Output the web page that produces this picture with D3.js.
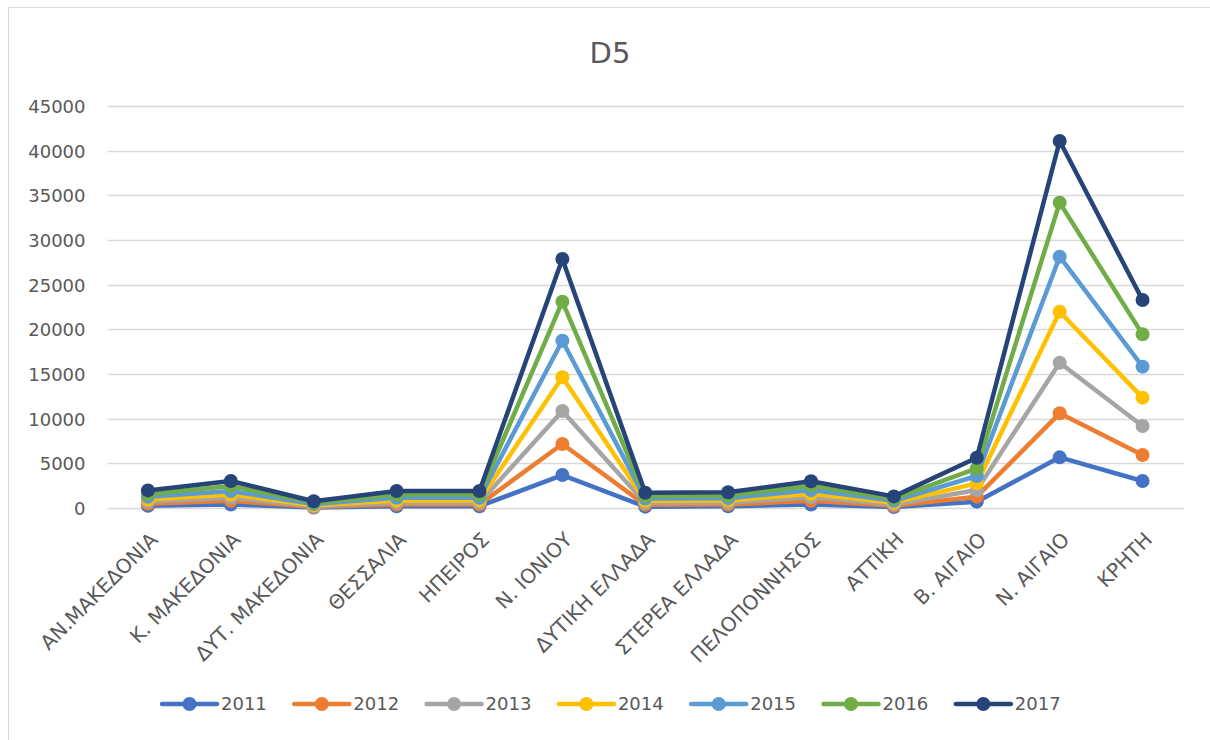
<!DOCTYPE html>
<html>
<head>
<meta charset="utf-8">
<script src="https://cdn.jsdelivr.net/npm/d3@7"></script>
<style>
  body { margin: 0; background: #fff; }
  text { font-family: "DejaVu Sans", "Noto Sans", sans-serif; fill: #595959; }
</style>
</head>
<body>
<script>
// chart data
var regions = ["ΑΝ.ΜΑΚΕΔΟΝΙΑ", "Κ. ΜΑΚΕΔΟΝΙΑ", "ΔΥΤ. ΜΑΚΕΔΟΝΙΑ", "ΘΕΣΣΑΛΙΑ", "ΗΠΕΙΡΟΣ",
               "Ν. ΙΟΝΙΟΥ", "ΔΥΤΙΚΗ ΕΛΛΑΔΑ", "ΣΤΕΡΕΑ ΕΛΛΑΔΑ", "ΠΕΛΟΠΟΝΝΗΣΟΣ", "ΑΤΤΙΚΗ",
               "Β. ΑΙΓΑΙΟ", "Ν. ΑΙΓΑΙΟ", "ΚΡΗΤΗ"];
var years = ["2011", "2012", "2013", "2014", "2015", "2016", "2017"];
var v2011 = [250, 400, 50, 200, 200, 3690, 150, 200, 400, 100, 710, 5670, 3020];
var v2012 = [480, 800, 100, 400, 400, 7160, 350, 400, 800, 250, 1270, 10600, 5930];
var v2013 = [700, 1150, 200, 600, 600, 10860, 550, 600, 1200, 400, 2010, 16260, 9180];
var v2014 = [950, 1500, 300, 850, 850, 14630, 800, 850, 1600, 600, 2760, 21970, 12350];
var v2015 = [1250, 1900, 450, 1150, 1150, 18730, 1050, 1100, 2000, 800, 3580, 28130, 15820];
var v2016 = [1550, 2450, 600, 1500, 1500, 23100, 1350, 1400, 2500, 1050, 4440, 34180, 19440];
var v2017 = [1970, 3020, 750, 1900, 1900, 27870, 1700, 1770, 3000, 1300, 5630, 41080, 23280];
var yTicks = [0, 5000, 10000, 15000, 20000, 25000, 30000, 35000, 40000, 45000];

var seriesValues = [v2011, v2012, v2013, v2014, v2015, v2016, v2017];
var colors = ["#4472C4", "#ED7D31", "#A5A5A5", "#FFC000", "#5B9BD5", "#70AD47", "#264478"];

var width = 1210, height = 740;
var plot = {left: 106.5, right: 1184, top: 106, bottom: 508};

var svg = d3.select("body").append("svg")
    .attr("width", width)
    .attr("height", height);

// chart border (left + top visible)
svg.append("path")
    .attr("d", "M8.5,740 V7.5 H1210")
    .attr("fill", "none")
    .attr("stroke", "#d9d9d9")
    .attr("stroke-width", 1);

var x = d3.scaleBand()
    .domain(regions)
    .range([plot.left, plot.right])
    .padding(0);
var y = d3.scaleLinear()
    .domain([0, 45000])
    .range([plot.bottom, plot.top]);

// gridlines
svg.append("g").selectAll("line")
    .data(yTicks)
  .enter().append("line")
    .attr("x1", plot.left + 1)
    .attr("x2", plot.right)
    .attr("y1", function(d) { return Math.round(y(d)) + 0.5; })
    .attr("y2", function(d) { return Math.round(y(d)) + 0.5; })
    .attr("stroke", "#d9d9d9")
    .attr("stroke-width", 1.3);

// y axis labels
var yAxis = svg.append("g")
    .attr("transform", "translate(" + (plot.left - 21) + ",0)")
    .call(d3.axisLeft(y).tickValues(yTicks).tickSize(0).tickPadding(0).tickFormat(d3.format("d")));
yAxis.select(".domain").remove();
yAxis.selectAll("text")
    .style("font-size", "18px")
    .attr("fill", "#595959")
    .attr("dy", "0.36em");

// x axis labels
var xAxis = svg.append("g")
    .attr("transform", "translate(0," + plot.bottom + ")")
    .call(d3.axisBottom(x).tickSize(0));
xAxis.select(".domain").remove();
xAxis.selectAll(".tick text")
    .style("font-size", "20px")
    .attr("fill", "#595959")
    .style("text-anchor", "end")
    .attr("x", 0)
    .attr("y", 0)
    .attr("dy", "0.35em")
    .attr("transform", "translate(6,28) rotate(-45)");

// lines and markers
var line = d3.line()
    .x(function(d, i) { return x(regions[i]) + x.bandwidth() / 2; })
    .y(function(d) { return y(d); });

seriesValues.forEach(function(vals, k) {
  var g = svg.append("g");
  g.append("path")
      .datum(vals)
      .attr("d", line)
      .attr("fill", "none")
      .attr("stroke", colors[k])
      .attr("stroke-width", 4.5)
      .attr("stroke-linejoin", "round")
      .attr("stroke-linecap", "round");
  g.selectAll("circle")
      .data(vals)
    .enter().append("circle")
      .attr("cx", function(d, i) { return x(regions[i]) + x.bandwidth() / 2; })
      .attr("cy", function(d) { return y(d); })
      .attr("r", 7)
      .attr("fill", colors[k]);
});

// title
svg.append("text")
    .attr("x", 610)
    .attr("y", 63)
    .attr("text-anchor", "middle")
    .style("font-size", "29px")
    .text("D5");

// legend
var legend = svg.append("g").selectAll("g")
    .data(years)
  .enter().append("g")
    .attr("transform", function(d, i) { return "translate(" + (162 + i * 132.3) + ",704)"; });
legend.append("line")
    .attr("x1", 0).attr("x2", 55)
    .attr("stroke", function(d, i) { return colors[i]; })
    .attr("stroke-width", 4.5)
    .attr("stroke-linecap", "round");
legend.append("circle")
    .attr("cx", 27.5)
    .attr("r", 7)
    .attr("fill", function(d, i) { return colors[i]; });
legend.append("text")
    .attr("x", 59)
    .attr("dy", "0.36em")
    .style("font-size", "18px")
    .text(function(d) { return d; });
</script>
</body>
</html>
